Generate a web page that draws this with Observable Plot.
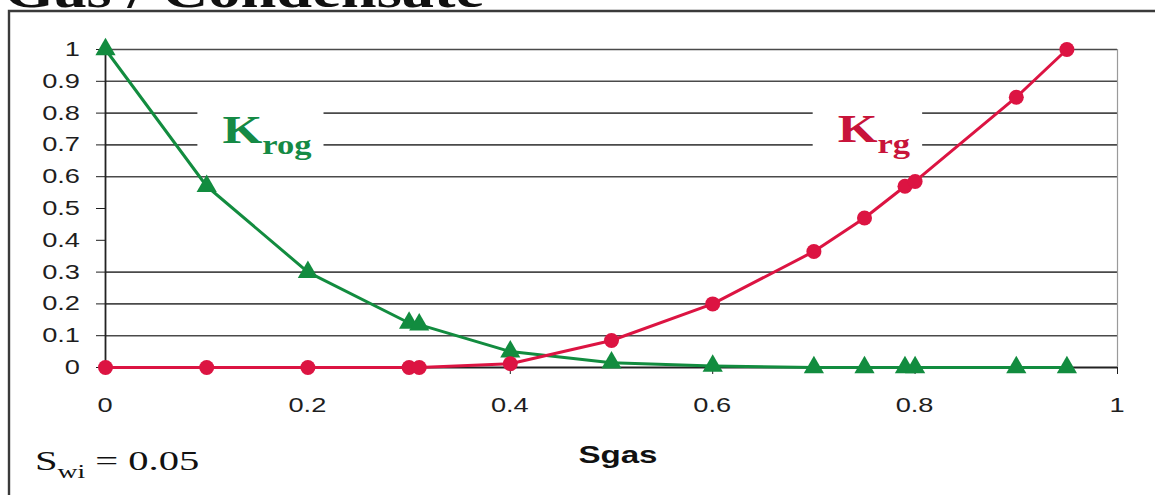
<!DOCTYPE html>
<html><head><meta charset="utf-8">
<script src="https://cdn.jsdelivr.net/npm/d3@7"></script>
<script src="https://cdn.jsdelivr.net/npm/@observablehq/plot@0.6"></script>
<style>
html,body{margin:0;padding:0;background:#fff;}
#chart{position:relative;width:1155px;height:495px;overflow:hidden;}
</style></head><body><div id="chart"></div>
<script>
// ---- data ----
const sgas = [0, 0.1, 0.2, 0.3, 0.31, 0.4, 0.5, 0.6, 0.7, 0.75, 0.79, 0.8, 0.9, 0.95];
const krog = [1.0, 0.57, 0.30, 0.14, 0.135, 0.05, 0.015, 0.005, 0, 0, 0, 0, 0, 0];
const krg  = [0, 0, 0, 0, 0, 0.012, 0.085, 0.2, 0.365, 0.47, 0.57, 0.585, 0.85, 1.0];
const xTicks = [0, 0.2, 0.4, 0.6, 0.8, 1];
const yTicks = [0, 0.1, 0.2, 0.3, 0.4, 0.5, 0.6, 0.7, 0.8, 0.9, 1];
const gridLevels = [0.1, 0.2, 0.3, 0.6, 0.7, 0.8, 0.9, 1];
const titleText = "Gas / Condensate";
const xLabel = "Sgas";
const seriesLabels = [{main: "K", sub: "rog"}, {main: "K", sub: "rg"}];

// ---- layout / style ----
const green = "#128c3f", red = "#dc1442";
const labelColors = ["#158a45", "#c8143a"];
const labelAnchors = [{x: 0.116, y: 0.705}, {x: 0.724, y: 0.708}];
const K = 1.36; // horizontal stretch of the scanned source
const SANS = "'Liberation Sans', Arial, sans-serif";
const SERIF = "'Liberation Serif', 'Times New Roman', serif";

const krogRows = sgas.map((s, i) => ({s, k: krog[i]}));
const krgRows = sgas.map((s, i) => ({s, k: krg[i]}));
const fmt = d => (d === 0 ? "0" : d === 1 ? "1" : d.toFixed(1));

const plot = Plot.plot({
  width: 1155, height: 495,
  marginLeft: 105, marginRight: 38, marginTop: 49, marginBottom: 128,
  style: {background: "white", fontFamily: SANS, fontSize: "20px", color: "#1e1e1e", overflow: "visible"},
  x: {domain: [0, 1], label: null},
  y: {domain: [0, 1], label: null},
  marks: [
    Plot.ruleY(gridLevels, {stroke: "#4a4a4a", strokeWidth: 1.6}),
    Plot.ruleX([1], {y1: 0, y2: 1, stroke: "#9a9a9a", strokeWidth: 1.2}),
    Plot.ruleX([0], {y1: 0, y2: 1, stroke: "#222", strokeWidth: 1.8}),
    Plot.ruleY([0], {stroke: "#222", strokeWidth: 1.8}),
    Plot.axisX(xTicks, {tickSize: 7, tickFormat: () => "", label: null}),
    Plot.axisY(yTicks, {tickSize: 9, tickFormat: () => "", label: null}),
    Plot.line(krogRows, {x: "s", y: "k", stroke: green, strokeWidth: 3}),
    Plot.line(krgRows, {x: "s", y: "k", stroke: red, strokeWidth: 3}),
    Plot.dot(krogRows, {x: "s", y: "k", symbol: "triangle", r: 7.5, fill: green, stroke: "none"}),
    Plot.dot(krgRows, {x: "s", y: "k", symbol: "circle", r: 7.5, fill: red, stroke: "none"})
  ]
});

document.getElementById("chart").append(plot);
const svg = d3.select(plot);
const sx = plot.scale("x"), sy = plot.scale("y");

// draw a horizontally widened text, anchored at (x, y)
function drawText(x, y, anchor, k, attrs, build) {
  const g = svg.append("g");
  const t = g.append("text").attr("x", 0).attr("y", 0).attr("text-anchor", "start");
  Object.entries(attrs).forEach(([a, v]) => t.attr(a, v));
  build(t);
  const w = t.node().getComputedTextLength() * k;
  const dx = anchor === "end" ? -w : anchor === "middle" ? -w / 2 : 0;
  g.attr("transform", `translate(${x + dx},${y}) scale(${k},1)`);
  return {g, w, left: x + dx};
}

// tick labels
const tickAttrs = {"font-family": SANS, "font-size": 20, fill: "#1e1e1e"};
yTicks.forEach(v => drawText(sx.apply(0) - 25, sy.apply(v) + 7, "end", K, tickAttrs, t => t.text(fmt(v))));
xTicks.forEach(v => drawText(sx.apply(v), sy.apply(0) + 45, "middle", K, tickAttrs, t => t.text(fmt(v))));

// outer frame
svg.append("path").attr("d", "M9,495 V11 H1155").attr("fill", "none")
  .attr("stroke", "#3a3a3a").attr("stroke-width", 2.4);

// title (cut off at top)
drawText(4, 7, "start", 1.29, {"font-family": SERIF, "font-weight": "bold", "font-size": 50, fill: "#111"},
  t => t.text(titleText));

// series labels with white gaps in the grid
seriesLabels.forEach((lab, i) => {
  const x0 = sx.apply(labelAnchors[i].x);
  const gap = svg.append("rect");
  const r = drawText(x0, sy.apply(labelAnchors[i].y), "start", 1.28,
    {"font-family": SERIF, "font-weight": "bold", fill: labelColors[i]},
    t => {
      t.append("tspan").attr("font-size", 40).text(lab.main);
      t.append("tspan").attr("font-size", 27).attr("dy", 11).text(lab.sub);
    });
  const yTop = sy.apply(0.85), yBot = sy.apply(0.65);
  gap.attr("x", x0 - 25).attr("width", r.w + 37).attr("y", yTop).attr("height", yBot - yTop).attr("fill", "white");
});

// x label
drawText(618, 463, "middle", 1.38, {"font-family": SANS, "font-weight": "bold", "font-size": 24, fill: "#111"},
  t => t.text(xLabel));

// Swi annotation
drawText(35, 470, "start", 1.45, {"font-family": SERIF, "font-size": 28, fill: "#111"}, t => {
  t.append("tspan").text("S");
  t.append("tspan").attr("font-size", 19).attr("dy", 8).text("wi");
  t.append("tspan").attr("dy", -8).text(" = 0.05");
});
</script></body></html>
